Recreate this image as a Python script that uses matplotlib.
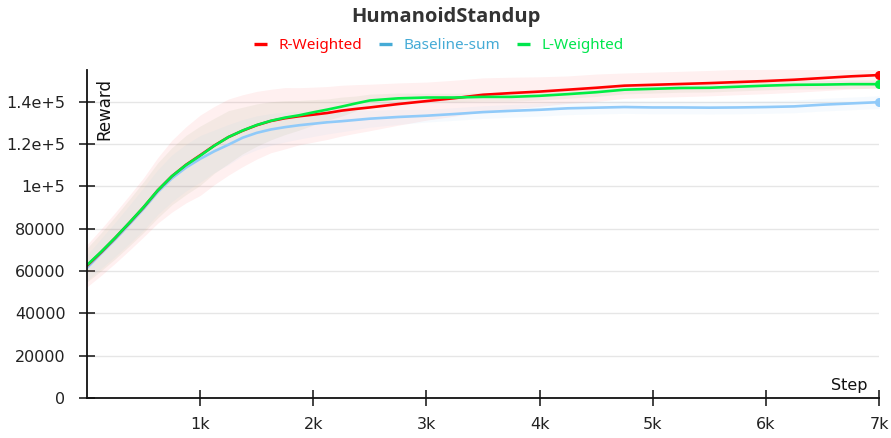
import numpy as np
import matplotlib
matplotlib.use("Agg")
import matplotlib.pyplot as plt
from matplotlib.lines import Line2D

steps = [0, 125, 250, 375, 500, 625, 750, 875, 1000, 1125, 1250, 1375, 1500, 1625,
         1750, 1875, 2000, 2125, 2250, 2375, 2500,
         2750, 3000, 3250, 3500, 3750, 4000, 4250, 4500, 4750, 5000, 5250, 5500,
         5750, 6000, 6250, 6500, 6750, 7000]

r_weighted = [62500, 68900, 75700, 82800, 90100, 98100, 104800, 110200, 114700, 119300,
              123300, 126300, 128900, 130900, 132200, 133150, 133900, 134700, 135800, 136600,
              137300,
              138900, 140300, 141700, 143300, 144100, 144800, 145700, 146600, 147600, 148000,
              148400, 148800, 149300, 149800, 150400, 151200, 152000, 152600]
baseline_sum = [61500, 68300, 75000, 82100, 89400, 97300, 103800, 108900, 113000, 116600,
                119700, 123000, 125300, 126900, 128000, 128900, 129600, 130300, 130800, 131400,
                132000,
                132800, 133400, 134200, 135100, 135700, 136200, 136900, 137200, 137500, 137300,
                137300, 137200, 137300, 137500, 137800, 138600, 139200, 139800]
l_weighted = [62800, 69100, 75800, 82900, 90200, 98100, 104800, 110100, 114500, 119200,
              123300, 126400, 129000, 131000, 132500, 133600, 135000, 136300, 137700, 139200,
              140600,
              141600, 142000, 142000, 142300, 142300, 142800, 143600, 144500, 145700, 146100,
              146500, 146600, 147100, 147600, 148000, 148100, 148300, 148300]

# spread around each curve
r_std = [10000, 11000, 12000, 13000, 14000, 15500, 17000, 18000, 19000, 18500, 18000,
         17000, 16000, 15000, 14500, 13500, 13000, 12500, 12000, 11500, 11000,
         10000, 9000, 8500, 8000, 7500, 7000, 6500, 6500, 6000, 6000, 6000, 6000, 6000,
         6000, 6000, 6000, 6000, 6000]
b_std = [6000, 7000, 8000, 9000, 10000, 10500, 11000, 11000, 11000, 10000, 9500,
         8500, 8000, 7500, 7000, 6500, 6000, 5500, 5000, 4500, 4000,
         3500, 3000, 3000, 3000, 3000, 3000, 3000, 3000, 3000, 3000, 3000, 3000, 3000,
         3000, 3000, 3000, 3000, 3000]
l_std = [8000, 9000, 10000, 11000, 12000, 13000, 13500, 14000, 14000, 13000, 12500,
         11000, 10000, 9000, 8000, 7000, 6000, 5000, 4500, 3500, 3000,
         2500, 2000, 2000, 2000, 2000, 2000, 2000, 2000, 2000, 2000, 2000, 2000, 2000,
         2000, 2000, 2000, 2000, 2000]

yticks = [0, 20000, 40000, 60000, 80000, 100000, 120000, 140000]
ytick_labels = ["0", "20000", "40000", "60000", "80000", "1e+5", "1.2e+5", "1.4e+5"]
xticks = [1000, 2000, 3000, 4000, 5000, 6000, 7000]
xtick_labels = ["1k", "2k", "3k", "4k", "5k", "6k", "7k"]

series = [
    ("R-Weighted", r_weighted, r_std, "#ff0000", "#ff0000", "#ff0000", 0.06),
    ("Baseline-sum", baseline_sum, b_std, "#90caf9", "#45abd6", "#90caf9", 0.08),
    ("L-Weighted", l_weighted, l_std, "#00ee44", "#00e64d", "#6a8a3a", 0.07),
]

fig = plt.figure(figsize=(8.91, 4.38), dpi=100)
ax = fig.add_axes([87 / 891, 40 / 438, 792 / 891, 328 / 438])

x = np.array(steps)
for name, vals, std, col, legcol, bandcol, a in series:
    v = np.array(vals)
    s = np.array(std)
    ax.fill_between(x, v - s, v + s, color=bandcol, alpha=a, linewidth=0)

draw_order = [series[1], series[0], series[2]]
for name, vals, std, col, legcol, bandcol, a in draw_order:
    ax.plot(x, vals, color=col, lw=1.9, solid_capstyle="round", solid_joinstyle="round")
    ax.plot(x[-1], vals[-1], "o", color=col, ms=5.5)

ax.set_xlim(0, 7000)
ax.set_ylim(0, 155000)
ax.set_yticks(yticks)
ax.set_yticklabels(ytick_labels)
ax.set_xticks(xticks)
ax.set_xticklabels(xtick_labels)
ax.tick_params(direction="inout", length=12, width=1.2, labelsize=11.5, colors="#222222")
ax.tick_params(axis="y", pad=9.5)
ax.tick_params(axis="x", pad=8)
ax.grid(axis="y", color="#e6e6e6", lw=1)
ax.set_axisbelow(True)
for sp in ["top", "right"]:
    ax.spines[sp].set_visible(False)
for sp in ["left", "bottom"]:
    ax.spines[sp].set_linewidth(1.3)
    ax.spines[sp].set_color("#111111")

ax.text(0.022, 0.975, "Reward", transform=ax.transAxes, rotation=90, ha="center", va="top",
        fontsize=12, color="#111111")
ax.text(0.985, 0.015, "Step", transform=ax.transAxes, ha="right", va="bottom",
        fontsize=11.5, color="#111111")

fig.text(0.5, 0.962, "HumanoidStandup", ha="center", va="center", fontsize=14.5,
         fontweight="bold", family=["Open Sans", "Noto Sans", "DejaVu Sans"], color="#333333")

handles = [Line2D([0], [0], color=s[4], lw=2.4, solid_capstyle="butt") for s in series]
leg = fig.legend(handles, [s[0] for s in series], loc="center", bbox_to_anchor=(0.493, 0.895),
                 ncol=3, frameon=False, handlelength=0.85, handletextpad=0.75,
                 columnspacing=1.1, prop={"family": "Noto Sans", "size": 11})
for t, s in zip(leg.get_texts(), series):
    t.set_color(s[4])

fig.savefig("out.png", dpi=100)
